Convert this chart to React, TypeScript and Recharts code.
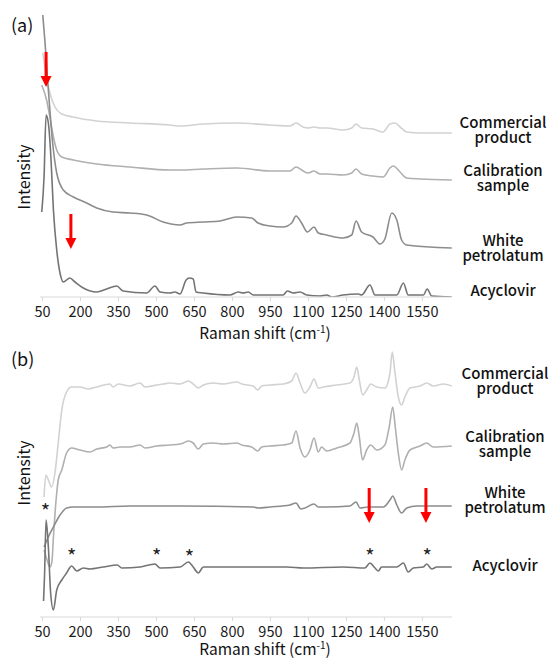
import React from 'react';
import { LineChart, Line, XAxis, YAxis, ReferenceDot } from 'recharts';

const FONT = '"Noto Sans CJK JP", "Noto Sans", sans-serif';

const shiftTicks = [50, 200, 350, 500, 650, 800, 950, 1100, 1250, 1400, 1550];
const seriesNames = ['Commercial product', 'Calibration sample', 'White petrolatum', 'Acyclovir'];
const seriesColors = ['#d2d2d2', '#b0b0b0', '#8c8c8c', '#747474'];

// (a) raw spectra, [Raman shift, offset intensity]
const commercialA: [number, number][] = [
  [51, 244], [66, 220], [79, 204], [99, 190], [126, 183], [170, 180], [264, 176], [395, 174],
  [553, 172], [593, 171], [684, 173], [817, 174], [948, 172], [1027, 171], [1051, 174], [1079, 170],
  [1098, 169], [1122, 170], [1146, 169], [1172, 169], [1237, 167], [1271, 169], [1288, 173], [1310, 169],
  [1355, 168], [1395, 165], [1422, 173], [1442, 174], [1462, 170], [1488, 165], [1541, 164], [1666, 164],
];
const calibrationA: [number, number][] = [
  [47, 212], [66, 197], [79, 180], [93, 160], [106, 147], [126, 140], [172, 137], [264, 133],
  [395, 130], [553, 127], [593, 127], [684, 128], [817, 129], [948, 126], [1027, 126], [1051, 130],
  [1079, 126], [1098, 124], [1122, 126], [1146, 123], [1172, 123], [1237, 122], [1271, 124], [1288, 128],
  [1310, 123], [1355, 121], [1395, 120], [1422, 129], [1435, 131], [1462, 125], [1488, 119], [1541, 118],
  [1666, 117],
];
const petrolatumA: [number, number][] = [
  [51, 282], [60, 254], [69, 220], [79, 187], [90, 154], [106, 124], [132, 107], [172, 100],
  [224, 94], [264, 89], [328, 85], [395, 84], [461, 82], [526, 75], [593, 72], [619, 74],
  [684, 75], [751, 76], [817, 80], [876, 79], [901, 74], [948, 71], [1000, 70], [1034, 74],
  [1051, 81], [1073, 74], [1096, 65], [1122, 70], [1139, 64], [1172, 62], [1237, 59], [1271, 62],
  [1288, 76], [1310, 65], [1355, 60], [1383, 53], [1402, 58], [1429, 84], [1449, 77], [1468, 57],
  [1488, 52], [1666, 49],
];
const acyclovirA: [number, number][] = [
  [47, 85], [56, 120], [64, 182], [73, 174], [83, 140], [93, 87], [106, 47], [119, 24],
  [132, 15], [158, 19], [178, 15], [211, 9], [264, 5], [303, 8], [343, 11], [368, 6],
  [461, 4], [494, 11], [514, 5], [553, 4], [573, 5], [593, 3], [617, 17], [630, 19],
  [645, 18], [656, 5], [684, 4], [790, 2], [823, 5], [842, 4], [863, 5], [882, 2],
  [1000, 2], [1017, 6], [1040, 4], [1067, 5], [1093, 2], [1146, 1], [1172, 2], [1192, 0],
  [1237, 2], [1297, 3], [1310, 2], [1343, 12], [1363, 2], [1449, 2], [1475, 14], [1494, 2],
  [1554, 2], [1569, 8], [1587, 1], [1666, 0],
];

// (b) second-derivative spectra
const commercialB: [number, number][] = [
  [56, 120], [63, 142], [73, 137], [86, 130], [99, 144], [112, 174], [126, 207], [145, 225],
  [165, 230], [198, 230], [231, 228], [264, 230], [316, 233], [329, 230], [349, 233], [395, 231],
  [435, 234], [455, 230], [501, 232], [527, 233], [553, 234], [593, 233], [606, 234], [626, 236],
  [645, 233], [665, 229], [685, 232], [724, 234], [764, 233], [817, 235], [837, 233], [882, 231],
  [900, 227], [915, 231], [948, 232], [1001, 233], [1034, 236], [1051, 244], [1067, 234], [1086, 224],
  [1106, 230], [1122, 238], [1139, 229], [1159, 230], [1212, 232], [1264, 234], [1280, 240], [1291, 250],
  [1301, 237], [1314, 222], [1330, 227], [1346, 233], [1370, 230], [1402, 229], [1422, 244], [1431, 265],
  [1442, 244], [1455, 220], [1468, 212], [1481, 220], [1501, 229], [1541, 231], [1567, 234], [1593, 231],
  [1633, 233], [1666, 231],
];
const calibrationB: [number, number][] = [
  [56, 67], [68, 57], [79, 50], [87, 55], [93, 80], [106, 124], [112, 137], [126, 147],
  [145, 164], [165, 169], [198, 167], [237, 165], [264, 168], [303, 170], [316, 172], [329, 169],
  [356, 170], [395, 170], [435, 172], [455, 169], [501, 171], [553, 172], [593, 173], [606, 174],
  [626, 176], [645, 174], [665, 168], [685, 173], [724, 174], [764, 173], [817, 174], [837, 172],
  [876, 170], [900, 166], [915, 170], [948, 171], [1001, 172], [1034, 174], [1051, 186], [1067, 169],
  [1086, 160], [1106, 167], [1122, 179], [1139, 165], [1152, 170], [1172, 166], [1212, 169], [1264, 174],
  [1280, 184], [1291, 194], [1301, 180], [1314, 157], [1330, 167], [1346, 172], [1370, 167], [1402, 172],
  [1419, 190], [1433, 210], [1443, 190], [1455, 164], [1468, 147], [1481, 157], [1501, 167], [1541, 171],
  [1567, 174], [1593, 170], [1666, 171],
];
const petrolatumB: [number, number][] = [
  [56, 70], [73, 80], [93, 90], [119, 102], [145, 109], [172, 110], [264, 110], [395, 111],
  [593, 111], [882, 110], [902, 109], [948, 110], [1027, 112], [1051, 114], [1070, 108], [1086, 109],
  [1122, 113], [1139, 110], [1172, 110], [1264, 111], [1288, 115], [1304, 109], [1336, 110], [1396, 110],
  [1422, 117], [1433, 121], [1449, 112], [1468, 104], [1488, 109], [1528, 111], [1666, 111],
];
const acyclovirB: [number, number][] = [
  [54, 16], [58, 42], [64, 97], [73, 70], [82, 24], [93, 7], [106, 27], [126, 37],
  [145, 44], [165, 51], [185, 46], [211, 49], [237, 48], [290, 50], [345, 52], [363, 49],
  [435, 50], [494, 53], [514, 49], [593, 50], [626, 55], [645, 50], [665, 44], [685, 50],
  [817, 50], [1014, 50], [1080, 49], [1238, 50], [1323, 49], [1343, 54], [1363, 49], [1376, 46],
  [1389, 50], [1449, 50], [1475, 54], [1494, 45], [1514, 49], [1554, 50], [1567, 53], [1587, 48],
  [1607, 50], [1666, 50],
];

const arrowsA: [number, number][] = [[64, 210], [162, 48]];
const arrowsB: [number, number][] = [[1340, 94], [1564, 94]];
const starsB: [number, number][] = [[61, 109], [165, 64], [501, 64], [630, 63], [1343, 64], [1569, 64]];

const toRows = (pts: [number, number][]) => pts.map(([x, y]) => ({ x, y }));

const DownArrow = (props: any) => {
  const { cx, cy } = props;
  return (
    <g>
      <rect x={cx - 1.5} y={cy - 35} width={3} height={25} fill="#f00" />
      <polygon points={`${cx - 5.5},${cy - 11} ${cx + 5.5},${cy - 11} ${cx},${cy}`} fill="#f00" />
    </g>
  );
};

const Star = (props: any) => {
  const { cx, cy } = props;
  return (
    <text x={cx} y={cy + 11} textAnchor="middle" fontSize={20} fontFamily={FONT} fill="#222">*</text>
  );
};

const Panel: React.FC<{
  top: number;
  height: number;
  marginTop: number;
  marginBottom: number;
  yMax: number;
  spectra: [number, number][][];
  arrows: [number, number][];
  stars: [number, number][];
}> = ({ top, height, marginTop, marginBottom, yMax, spectra, arrows, stars }) => (
  <div style={{ position: 'absolute', left: 0, top }}>
    <LineChart width={552} height={height} margin={{ top: marginTop, right: 100, bottom: marginBottom, left: 40 }}>
      <XAxis
        type="number"
        dataKey="x"
        domain={[40, 1667]}
        ticks={shiftTicks}
        interval={0}
        allowDataOverflow
        height={30}
        stroke="#d9d9d9"
        tickSize={4}
        tickMargin={6}
        tick={{ fontSize: 14.5, fill: '#1a1a1a', fontFamily: FONT }}
      />
      <YAxis hide type="number" domain={[0, yMax]} allowDataOverflow />
      {spectra.map((s, i) => (
        <Line
          key={seriesNames[i]}
          name={seriesNames[i]}
          data={toRows(s)}
          dataKey="y"
          type="monotone"
          stroke={seriesColors[i]}
          strokeWidth={1.6}
          dot={false}
          isAnimationActive={false}
        />
      ))}
      {arrows.map(([x, y], i) => (
        <ReferenceDot key={'a' + i} x={x} y={y} r={0} ifOverflow="visible" shape={DownArrow} />
      ))}
      {stars.map(([x, y], i) => (
        <ReferenceDot key={'s' + i} x={x} y={y} r={0} ifOverflow="visible" shape={Star} />
      ))}
    </LineChart>
  </div>
);

const SideLabel: React.FC<{ x: number; y: number; lines: string[] }> = ({ x, y, lines }) => (
  <g fontSize={15} fontWeight={500} fontFamily={FONT} fill="#111">
    {lines.map((l, i) => (
      <text key={l} x={x} y={y + i * 15 + 5.5} textAnchor="middle">{l}</text>
    ))}
  </g>
);

const AxisTitle: React.FC<{ y: number }> = ({ y }) => (
  <text x={265} y={y} textAnchor="middle" fontSize={15.5} fontFamily={FONT} fill="#111">
    Raman shift (cm<tspan fontSize={10} dy={-6}>-1</tspan><tspan dy={6}>)</tspan>
  </text>
);

export default function App() {
  return (
    <div style={{ position: 'absolute', left: 0, top: 0, width: 552, height: 661, background: '#fff' }}>
      <Panel
        top={0}
        height={345}
        marginTop={15}
        marginBottom={18}
        yMax={282}
        spectra={[commercialA, calibrationA, petrolatumA, acyclovirA]}
        arrows={arrowsA}
        stars={[]}
      />
      <Panel
        top={330}
        height={331}
        marginTop={15}
        marginBottom={14}
        yMax={272}
        spectra={[commercialB, calibrationB, petrolatumB, acyclovirB]}
        arrows={arrowsB}
        stars={starsB}
      />
      <svg width={552} height={661} style={{ position: 'absolute', left: 0, top: 0, pointerEvents: 'none' }}>
        <text x={11} y={32} fontSize={18} fontFamily={FONT} fill="#111">(a)</text>
        <text x={11} y={366} fontSize={18} fontFamily={FONT} fill="#111">(b)</text>
        <text x={23} y={177} transform="rotate(-90 23 177)" textAnchor="middle" dominantBaseline="central"
          fontSize={16} fontFamily={FONT} fill="#111">Intensity</text>
        <text x={23} y={473} transform="rotate(-90 23 473)" textAnchor="middle" dominantBaseline="central"
          fontSize={16} fontFamily={FONT} fill="#111">Intensity</text>
        <SideLabel x={503} y={122.7} lines={['Commercial', 'product']} />
        <SideLabel x={503} y={170.7} lines={['Calibration', 'sample']} />
        <SideLabel x={503} y={240} lines={['White', 'petrolatum']} />
        <SideLabel x={503} y={290} lines={['Acyclovir']} />
        <SideLabel x={505} y={373.3} lines={['Commercial', 'product']} />
        <SideLabel x={505} y={436.7} lines={['Calibration', 'sample']} />
        <SideLabel x={505} y={492.3} lines={['White', 'petrolatum']} />
        <SideLabel x={505} y={565.7} lines={['Acyclovir']} />
        <AxisTitle y={339} />
        <AxisTitle y={655} />
      </svg>
    </div>
  );
}
